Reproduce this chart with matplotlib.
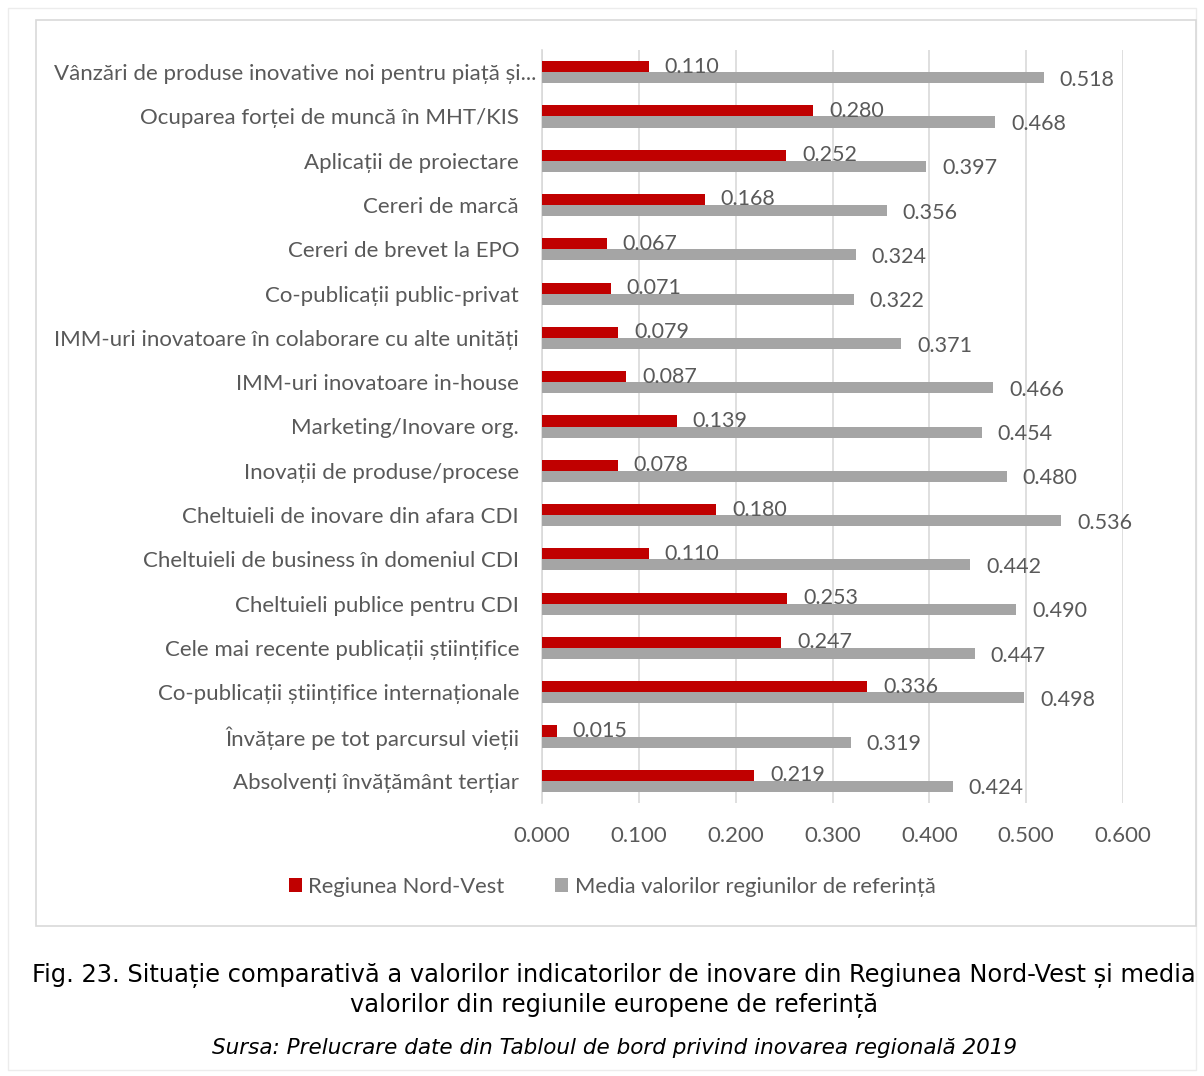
import matplotlib
matplotlib.use("Agg")
import matplotlib.pyplot as plt
from matplotlib.patches import Rectangle
import numpy as np

categories = [
    "Vânzări de produse inovative noi pentru piață și...",
    "Ocuparea forței de muncă în MHT/KIS",
    "Aplicații de proiectare",
    "Cereri de marcă",
    "Cereri de brevet la EPO",
    "Co-publicații public-privat",
    "IMM-uri inovatoare în colaborare cu alte unități",
    "IMM-uri inovatoare in-house",
    "Marketing/Inovare org.",
    "Inovații de produse/procese",
    "Cheltuieli de inovare din afara CDI",
    "Cheltuieli de business în domeniul CDI",
    "Cheltuieli publice pentru CDI",
    "Cele mai recente publicații științifice",
    "Co-publicații științifice internaționale",
    "Învățare pe tot parcursul vieții",
    "Absolvenți învățământ terțiar",
]
nord_vest = [0.110, 0.280, 0.252, 0.168, 0.067, 0.071, 0.079, 0.087, 0.139,
             0.078, 0.180, 0.110, 0.253, 0.247, 0.336, 0.015, 0.219]
media_ref = [0.518, 0.468, 0.397, 0.356, 0.324, 0.322, 0.371, 0.466, 0.454,
             0.480, 0.536, 0.442, 0.490, 0.447, 0.498, 0.319, 0.424]
series_names = ["Regiunea Nord-Vest", "Media valorilor regiunilor de referință"]
x_ticks = [0.0, 0.1, 0.2, 0.3, 0.4, 0.5, 0.6]

RED = "#C00000"
GREY = "#A5A5A5"
TXT = "#595959"
FONT = ["Lato", "DejaVu Sans"]
plt.rcParams["font.family"] = FONT

W, H = 1204, 1076
fig = plt.figure(figsize=(W / 100, H / 100), dpi=100)

# outer frames
fig.patches.append(Rectangle((8 / W, 1 - 1070 / H), (1196 - 8) / W, (1070 - 8) / H,
                             transform=fig.transFigure, fill=False,
                             edgecolor="#ececec", linewidth=1))
fig.patches.append(Rectangle((36 / W, 1 - 926 / H), (1196 - 36) / W, (926 - 20) / H,
                             transform=fig.transFigure, fill=False,
                             edgecolor="#d9d9d9", linewidth=1.2))

ax = fig.add_axes([542 / W, 1 - 803 / H, (1123 - 542) / W, (803 - 50) / H])

n = len(categories)
y = np.arange(n)
bh = 0.25
ax.barh(y - bh / 2, nord_vest, height=bh, color=RED, label=series_names[0], zorder=3)
ax.barh(y + bh / 2, media_ref, height=bh, color=GREY, label=series_names[1], zorder=3)

for yi, v in zip(y, nord_vest):
    ax.annotate(f"{v:.3f}", (v, yi - bh / 2), xytext=(11.5, 0), textcoords="offset points",
                ha="left", va="center", fontsize=15.5, color=TXT, zorder=4)
for yi, v in zip(y, media_ref):
    ax.annotate(f"{v:.3f}", (v, yi + bh / 2), xytext=(11.5, -1.5), textcoords="offset points",
                ha="left", va="center", fontsize=15.5, color=TXT, zorder=4)

ax.set_ylim(n - 0.5, -0.5)
ax.set_xlim(0, 0.6)
ax.set_xticks(x_ticks)
ax.set_xticklabels([f"{t:.3f}" for t in x_ticks], fontsize=16, color=TXT)
ax.set_yticks(y)
# the first (truncated) label extends further right in the original
ax.set_yticklabels([""] + categories[1:], fontsize=16, color=TXT)
ax.annotate(categories[0], xy=(0, y[0]), xycoords=ax.get_yaxis_transform(),
            xytext=(-4.3, 0), textcoords="offset points", ha="right",
            va="center_baseline", fontsize=16, color=TXT, annotation_clip=False)
ax.tick_params(axis="x", length=0, pad=16.5)
ax.tick_params(axis="y", length=0, pad=16.5)
ax.grid(axis="x", color="#d9d9d9", linewidth=1.2, zorder=0)
for s in ["top", "right", "bottom"]:
    ax.spines[s].set_visible(False)
ax.spines["left"].set_color("#d9d9d9")
ax.spines["left"].set_linewidth(1.2)

leg = fig.legend(loc="center", bbox_to_anchor=(612 / W, 1 - 887 / H), ncol=2,
                 frameon=False, fontsize=15.8, handlelength=0.6, handleheight=0.6,
                 columnspacing=2.3, handletextpad=0.3)
for t in leg.get_texts():
    t.set_color(TXT)

fig.text(614 / W, 1 - 976 / H,
         "Fig. 23. Situație comparativă a valorilor indicatorilor de inovare din Regiunea Nord-Vest și media",
         ha="center", va="center", fontsize=17.4, family="DejaVu Sans", color="black")
fig.text(614 / W, 1 - 1005 / H, "valorilor din regiunile europene de referință",
         ha="center", va="center", fontsize=17.4, family="DejaVu Sans", color="black")
fig.text(614 / W, 1 - 1048 / H,
         "Sursa: Prelucrare date din Tabloul de bord privind inovarea regională 2019",
         ha="center", va="center", fontsize=15.5, family="DejaVu Sans", style="italic",
         color="black")

fig.savefig("out.png", dpi=100, facecolor="white")
